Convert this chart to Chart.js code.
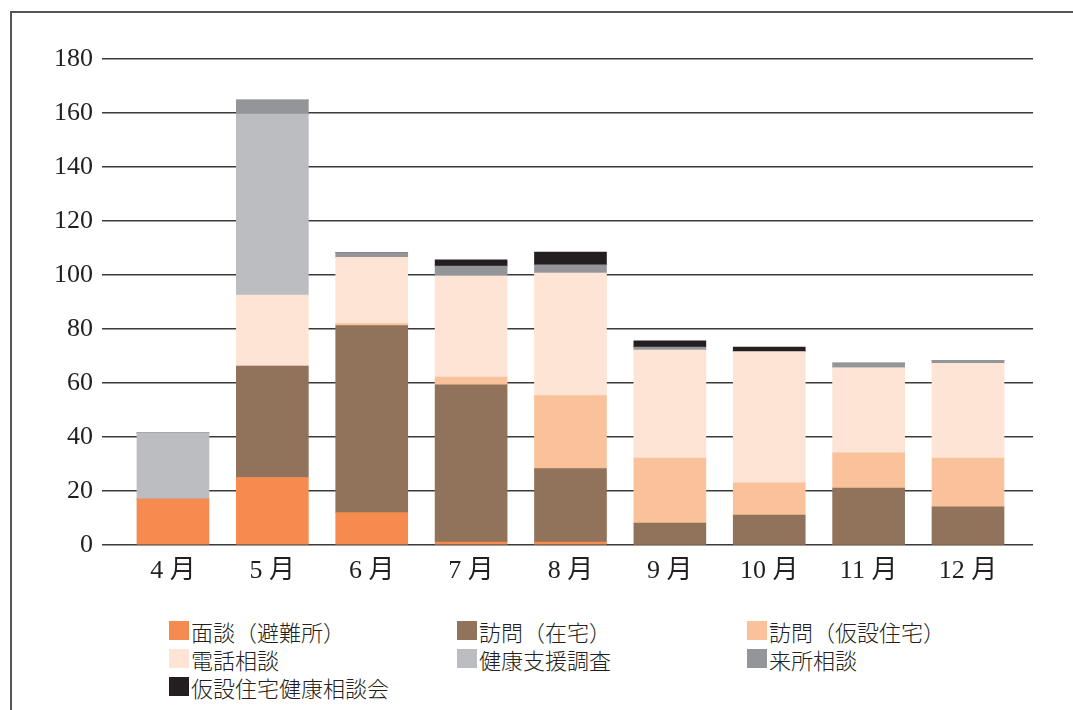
<!DOCTYPE html>
<html>
<head>
<meta charset="utf-8">
<script src="https://cdn.jsdelivr.net/npm/chart.js@4"></script>
<style>
  body { margin: 0; background: #fff; }
  #frame { position: absolute; left: 10px; top: 11px; width: 1100px; height: 760px;
           border-left: 2px solid #555; border-top: 2px solid #555; }
  #wrap { position: absolute; left: 0; top: 0; width: 1073px; height: 600px; }
  #legend { position: absolute; left: 169px; top: 621px; display: grid;
            grid-template-columns: 288px 290px 290px; row-gap: 9px;
            font-family: "Noto Sans CJK JP", sans-serif; font-weight: 300; font-size: 22px; color: #231f20; }
  #legend .item { display: flex; align-items: center; height: 19px; white-space: nowrap; }
  #legend .box { width: 20px; height: 19px; margin-right: 2px; flex: none; }
</style>
</head>
<body>
<div id="frame"></div>
<div id="wrap"><canvas id="chart" width="1073" height="600"></canvas></div>
<div id="legend"></div>
<script>
  var months = ['4 月', '5 月', '6 月', '7 月', '8 月', '9 月', '10 月', '11 月', '12 月'];

  var mendan   = [17, 25, 12, 1.1, 1.1, 0, 0, 0, 0];          // 面談（避難所）
  var houmonZ  = [0, 41.3, 69.3, 58.2, 27.2, 8.1, 11.1, 21.1, 14.1]; // 訪問（在宅）
  var houmonK  = [0, 0, 0.7, 2.9, 27, 24.1, 11.9, 13, 18.1];  // 訪問（仮設住宅）
  var denwa    = [0, 26.3, 24.5, 37.4, 45.4, 40, 48.5, 31.5, 35.1]; // 電話相談
  var kenkou   = [24.5, 67, 0, 0, 0, 0, 0, 0, 0];             // 健康支援調査
  var raisho   = [0, 5.2, 1.8, 3.7, 3.1, 1.1, 0, 1.8, 1.1];   // 来所相談
  var soudanK  = [0, 0, 0, 2.3, 4.7, 2.3, 1.8, 0, 0];         // 仮設住宅健康相談会

  var yTicks = [0, 20, 40, 60, 80, 100, 120, 140, 160, 180];

  function pts(arr) {
    return arr.map(function (v, i) { return { x: i, y: v }; });
  }

  var series = [
    { label: '面談（避難所）', data: mendan, color: '#f68b50' },
    { label: '訪問（在宅）', data: houmonZ, color: '#91725a' },
    { label: '訪問（仮設住宅）', data: houmonK, color: '#f9c29b' },
    { label: '電話相談', data: denwa, color: '#fde4d4' },
    { label: '健康支援調査', data: kenkou, color: '#bcbdc0' },
    { label: '来所相談', data: raisho, color: '#939598' },
    { label: '仮設住宅健康相談会', data: soudanK, color: '#231f20' }
  ];

  var tickFont = { family: "'Liberation Serif', 'Noto Sans CJK JP', serif", size: 26 };

  new Chart(document.getElementById('chart').getContext('2d'), {
    type: 'bar',
    data: {
      datasets: series.map(function (s) {
        return { label: s.label, data: pts(s.data), backgroundColor: s.color,
                 borderWidth: 0, barThickness: 72 };
      })
    },
    options: {
      responsive: false,
      animation: false,
      layout: { padding: { left: 0, right: 40, top: 59, bottom: 0 } },
      plugins: { legend: { display: false }, tooltip: { enabled: false } },
      scales: {
        x: {
          type: 'linear',
          stacked: true,
          offset: false,
          min: -0.714,
          max: 8.654,
          grid: { display: false },
          border: { display: false },
          ticks: {
            stepSize: 1,
            includeBounds: false,
            autoSkip: false,
            maxRotation: 0,
            padding: 3,
            color: '#231f20',
            font: tickFont,
            callback: function (v) { return months[v]; }
          },
          afterFit: function (s) { s.height = 55; }
        },
        y: {
          stacked: true,
          min: 0,
          max: 180,
          afterBuildTicks: function (s) { s.ticks = yTicks.map(function (v) { return { value: v }; }); },
          grid: { color: '#3a3a3a', lineWidth: 1.5, drawTicks: false },
          border: { display: false },
          ticks: { padding: 9, color: '#231f20', font: tickFont },
          afterFit: function (s) { s.width = 102; }
        }
      }
    }
  });

  var legend = document.getElementById('legend');
  series.forEach(function (s) {
    var item = document.createElement('div');
    item.className = 'item';
    item.innerHTML = '<span class="box" style="background:' + s.color + '"></span><span>' + s.label + '</span>';
    legend.appendChild(item);
  });
</script>
</body>
</html>
